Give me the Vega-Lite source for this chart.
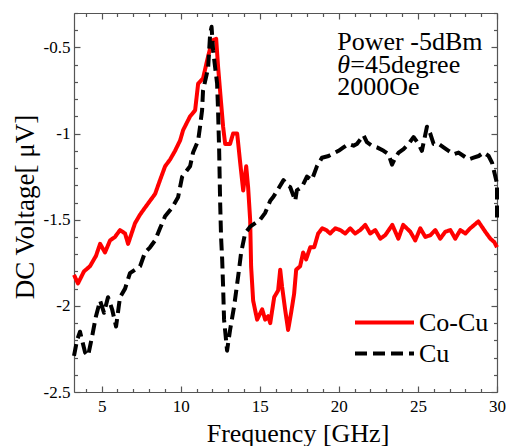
{
  "$schema": "https://vega.github.io/schema/vega-lite/v6.json",
  "width": 423,
  "height": 379,
  "autosize": {"type": "none"},
  "padding": {"left": 74, "top": 13, "right": 9, "bottom": 54},
  "background": "white",
  "config": {
    "view": {"stroke": null},
    "font": "Liberation Serif",
    "axis": {"grid": false, "labelFont": "Liberation Serif", "titleFont": "Liberation Serif"},
    "legend": {"labelFont": "Liberation Serif", "titleFont": "Liberation Serif"},
    "text": {"font": "Liberation Serif"},
    "style": {
      "guide-label": {"font": "Liberation Serif"},
      "guide-title": {"font": "Liberation Serif"}
    }
  },
  "datasets": {
    "curves": [
      {"series":"Co-Cu","idx":0,"freq":3.25,"volt":-1.82},
      {"series":"Co-Cu","idx":1,"freq":3.5,"volt":-1.87},
      {"series":"Co-Cu","idx":2,"freq":3.88,"volt":-1.8},
      {"series":"Co-Cu","idx":3,"freq":4.26,"volt":-1.77},
      {"series":"Co-Cu","idx":4,"freq":4.64,"volt":-1.71},
      {"series":"Co-Cu","idx":5,"freq":4.9,"volt":-1.64},
      {"series":"Co-Cu","idx":6,"freq":5.21,"volt":-1.69},
      {"series":"Co-Cu","idx":7,"freq":5.53,"volt":-1.62},
      {"series":"Co-Cu","idx":8,"freq":5.84,"volt":-1.6},
      {"series":"Co-Cu","idx":9,"freq":6.16,"volt":-1.56},
      {"series":"Co-Cu","idx":10,"freq":6.48,"volt":-1.58},
      {"series":"Co-Cu","idx":11,"freq":6.67,"volt":-1.64},
      {"series":"Co-Cu","idx":12,"freq":7.11,"volt":-1.52},
      {"series":"Co-Cu","idx":13,"freq":7.43,"volt":-1.47},
      {"series":"Co-Cu","idx":14,"freq":7.74,"volt":-1.43},
      {"series":"Co-Cu","idx":15,"freq":8.06,"volt":-1.39},
      {"series":"Co-Cu","idx":16,"freq":8.38,"volt":-1.35},
      {"series":"Co-Cu","idx":17,"freq":8.69,"volt":-1.27},
      {"series":"Co-Cu","idx":18,"freq":9.01,"volt":-1.19},
      {"series":"Co-Cu","idx":19,"freq":9.33,"volt":-1.15},
      {"series":"Co-Cu","idx":20,"freq":9.64,"volt":-1.1},
      {"series":"Co-Cu","idx":21,"freq":9.96,"volt":-1.04},
      {"series":"Co-Cu","idx":22,"freq":10.15,"volt":-0.98},
      {"series":"Co-Cu","idx":23,"freq":10.59,"volt":-0.9},
      {"series":"Co-Cu","idx":24,"freq":10.91,"volt":-0.865},
      {"series":"Co-Cu","idx":25,"freq":11.1,"volt":-0.71},
      {"series":"Co-Cu","idx":26,"freq":11.41,"volt":-0.68},
      {"series":"Co-Cu","idx":27,"freq":11.67,"volt":-0.575},
      {"series":"Co-Cu","idx":28,"freq":11.98,"volt":-0.46},
      {"series":"Co-Cu","idx":29,"freq":12.24,"volt":-0.45},
      {"series":"Co-Cu","idx":30,"freq":12.36,"volt":-0.61},
      {"series":"Co-Cu","idx":31,"freq":12.55,"volt":-0.82},
      {"series":"Co-Cu","idx":32,"freq":12.68,"volt":-0.96},
      {"series":"Co-Cu","idx":33,"freq":12.81,"volt":-1.06},
      {"series":"Co-Cu","idx":34,"freq":13.12,"volt":-1.06},
      {"series":"Co-Cu","idx":35,"freq":13.31,"volt":-1.0},
      {"series":"Co-Cu","idx":36,"freq":13.57,"volt":-1.0},
      {"series":"Co-Cu","idx":37,"freq":13.76,"volt":-1.17},
      {"series":"Co-Cu","idx":38,"freq":13.95,"volt":-1.33},
      {"series":"Co-Cu","idx":39,"freq":14.14,"volt":-1.19},
      {"series":"Co-Cu","idx":40,"freq":14.26,"volt":-1.31},
      {"series":"Co-Cu","idx":41,"freq":14.39,"volt":-1.5},
      {"series":"Co-Cu","idx":42,"freq":14.45,"volt":-1.77},
      {"series":"Co-Cu","idx":43,"freq":14.58,"volt":-1.97},
      {"series":"Co-Cu","idx":44,"freq":14.83,"volt":-2.08},
      {"series":"Co-Cu","idx":45,"freq":15.15,"volt":-2.02},
      {"series":"Co-Cu","idx":46,"freq":15.34,"volt":-2.08},
      {"series":"Co-Cu","idx":47,"freq":15.53,"volt":-2.06},
      {"series":"Co-Cu","idx":48,"freq":15.66,"volt":-2.1},
      {"series":"Co-Cu","idx":49,"freq":15.91,"volt":-1.95},
      {"series":"Co-Cu","idx":50,"freq":16.16,"volt":-1.91},
      {"series":"Co-Cu","idx":51,"freq":16.29,"volt":-1.79},
      {"series":"Co-Cu","idx":52,"freq":16.41,"volt":-1.89},
      {"series":"Co-Cu","idx":53,"freq":16.6,"volt":-2.02},
      {"series":"Co-Cu","idx":54,"freq":16.79,"volt":-2.14},
      {"series":"Co-Cu","idx":55,"freq":16.98,"volt":-2.04},
      {"series":"Co-Cu","idx":56,"freq":17.17,"volt":-1.93},
      {"series":"Co-Cu","idx":57,"freq":17.3,"volt":-1.79},
      {"series":"Co-Cu","idx":58,"freq":17.55,"volt":-1.77},
      {"series":"Co-Cu","idx":59,"freq":17.74,"volt":-1.69},
      {"series":"Co-Cu","idx":60,"freq":17.93,"volt":-1.73},
      {"series":"Co-Cu","idx":61,"freq":18.19,"volt":-1.66},
      {"series":"Co-Cu","idx":62,"freq":18.44,"volt":-1.66},
      {"series":"Co-Cu","idx":63,"freq":18.69,"volt":-1.58},
      {"series":"Co-Cu","idx":64,"freq":18.95,"volt":-1.55},
      {"series":"Co-Cu","idx":65,"freq":19.2,"volt":-1.56},
      {"series":"Co-Cu","idx":66,"freq":19.45,"volt":-1.58},
      {"series":"Co-Cu","idx":67,"freq":19.77,"volt":-1.55},
      {"series":"Co-Cu","idx":68,"freq":20.09,"volt":-1.56},
      {"series":"Co-Cu","idx":69,"freq":20.4,"volt":-1.58},
      {"series":"Co-Cu","idx":70,"freq":20.72,"volt":-1.55},
      {"series":"Co-Cu","idx":71,"freq":21.03,"volt":-1.58},
      {"series":"Co-Cu","idx":72,"freq":21.35,"volt":-1.56},
      {"series":"Co-Cu","idx":73,"freq":21.67,"volt":-1.53},
      {"series":"Co-Cu","idx":74,"freq":21.98,"volt":-1.58},
      {"series":"Co-Cu","idx":75,"freq":22.3,"volt":-1.56},
      {"series":"Co-Cu","idx":76,"freq":22.62,"volt":-1.61},
      {"series":"Co-Cu","idx":77,"freq":22.93,"volt":-1.59},
      {"series":"Co-Cu","idx":78,"freq":23.38,"volt":-1.53},
      {"series":"Co-Cu","idx":79,"freq":23.76,"volt":-1.61},
      {"series":"Co-Cu","idx":80,"freq":24.07,"volt":-1.53},
      {"series":"Co-Cu","idx":81,"freq":24.52,"volt":-1.57},
      {"series":"Co-Cu","idx":82,"freq":24.83,"volt":-1.62},
      {"series":"Co-Cu","idx":83,"freq":25.15,"volt":-1.55},
      {"series":"Co-Cu","idx":84,"freq":25.47,"volt":-1.6},
      {"series":"Co-Cu","idx":85,"freq":25.78,"volt":-1.59},
      {"series":"Co-Cu","idx":86,"freq":26.1,"volt":-1.56},
      {"series":"Co-Cu","idx":87,"freq":26.41,"volt":-1.61},
      {"series":"Co-Cu","idx":88,"freq":26.73,"volt":-1.57},
      {"series":"Co-Cu","idx":89,"freq":27.05,"volt":-1.56},
      {"series":"Co-Cu","idx":90,"freq":27.36,"volt":-1.61},
      {"series":"Co-Cu","idx":91,"freq":27.68,"volt":-1.56},
      {"series":"Co-Cu","idx":92,"freq":28.0,"volt":-1.58},
      {"series":"Co-Cu","idx":93,"freq":28.31,"volt":-1.55},
      {"series":"Co-Cu","idx":94,"freq":28.82,"volt":-1.51},
      {"series":"Co-Cu","idx":95,"freq":29.26,"volt":-1.57},
      {"series":"Co-Cu","idx":96,"freq":29.58,"volt":-1.61},
      {"series":"Co-Cu","idx":97,"freq":29.83,"volt":-1.63},
      {"series":"Co-Cu","idx":98,"freq":30.0,"volt":-1.66},
      {"series":"Cu","idx":0,"freq":3.25,"volt":-2.29},
      {"series":"Cu","idx":1,"freq":3.44,"volt":-2.2},
      {"series":"Cu","idx":2,"freq":3.63,"volt":-2.15},
      {"series":"Cu","idx":3,"freq":3.95,"volt":-2.27},
      {"series":"Cu","idx":4,"freq":4.14,"volt":-2.29},
      {"series":"Cu","idx":5,"freq":4.39,"volt":-2.18},
      {"series":"Cu","idx":6,"freq":4.64,"volt":-2.06},
      {"series":"Cu","idx":7,"freq":4.9,"volt":-1.97},
      {"series":"Cu","idx":8,"freq":5.15,"volt":-2.04},
      {"series":"Cu","idx":9,"freq":5.4,"volt":-1.95},
      {"series":"Cu","idx":10,"freq":5.66,"volt":-2.02},
      {"series":"Cu","idx":11,"freq":5.91,"volt":-2.12},
      {"series":"Cu","idx":12,"freq":6.16,"volt":-1.95},
      {"series":"Cu","idx":13,"freq":6.48,"volt":-1.9},
      {"series":"Cu","idx":14,"freq":6.79,"volt":-1.81},
      {"series":"Cu","idx":15,"freq":7.11,"volt":-1.79},
      {"series":"Cu","idx":16,"freq":7.43,"volt":-1.77},
      {"series":"Cu","idx":17,"freq":7.74,"volt":-1.69},
      {"series":"Cu","idx":18,"freq":8.06,"volt":-1.66},
      {"series":"Cu","idx":19,"freq":8.38,"volt":-1.62},
      {"series":"Cu","idx":20,"freq":8.69,"volt":-1.55},
      {"series":"Cu","idx":21,"freq":9.01,"volt":-1.48},
      {"series":"Cu","idx":22,"freq":9.45,"volt":-1.43},
      {"series":"Cu","idx":23,"freq":9.83,"volt":-1.37},
      {"series":"Cu","idx":24,"freq":10.09,"volt":-1.25},
      {"series":"Cu","idx":25,"freq":10.59,"volt":-1.19},
      {"series":"Cu","idx":26,"freq":10.78,"volt":-1.11},
      {"series":"Cu","idx":27,"freq":11.1,"volt":-1.04},
      {"series":"Cu","idx":28,"freq":11.22,"volt":-0.96},
      {"series":"Cu","idx":29,"freq":11.35,"volt":-0.865},
      {"series":"Cu","idx":30,"freq":11.41,"volt":-0.75},
      {"series":"Cu","idx":31,"freq":11.73,"volt":-0.62},
      {"series":"Cu","idx":32,"freq":11.86,"volt":-0.42},
      {"series":"Cu","idx":33,"freq":11.95,"volt":-0.38},
      {"series":"Cu","idx":34,"freq":12.05,"volt":-0.52},
      {"series":"Cu","idx":35,"freq":12.3,"volt":-0.71},
      {"series":"Cu","idx":36,"freq":12.36,"volt":-0.865},
      {"series":"Cu","idx":37,"freq":12.43,"volt":-1.1},
      {"series":"Cu","idx":38,"freq":12.49,"volt":-1.39},
      {"series":"Cu","idx":39,"freq":12.55,"volt":-1.6},
      {"series":"Cu","idx":40,"freq":12.62,"volt":-1.73},
      {"series":"Cu","idx":41,"freq":12.68,"volt":-1.89},
      {"series":"Cu","idx":42,"freq":12.74,"volt":-2.08},
      {"series":"Cu","idx":43,"freq":12.93,"volt":-2.26},
      {"series":"Cu","idx":44,"freq":13.12,"volt":-2.14},
      {"series":"Cu","idx":45,"freq":13.38,"volt":-2.0},
      {"series":"Cu","idx":46,"freq":13.63,"volt":-1.83},
      {"series":"Cu","idx":47,"freq":13.82,"volt":-1.69},
      {"series":"Cu","idx":48,"freq":14.07,"volt":-1.58},
      {"series":"Cu","idx":49,"freq":14.39,"volt":-1.54},
      {"series":"Cu","idx":50,"freq":14.71,"volt":-1.52},
      {"series":"Cu","idx":51,"freq":15.02,"volt":-1.5},
      {"series":"Cu","idx":52,"freq":15.34,"volt":-1.46},
      {"series":"Cu","idx":53,"freq":15.66,"volt":-1.39},
      {"series":"Cu","idx":54,"freq":15.86,"volt":-1.367},
      {"series":"Cu","idx":55,"freq":16.18,"volt":-1.319},
      {"series":"Cu","idx":56,"freq":16.5,"volt":-1.27},
      {"series":"Cu","idx":57,"freq":16.71,"volt":-1.3},
      {"series":"Cu","idx":58,"freq":16.92,"volt":-1.31},
      {"series":"Cu","idx":59,"freq":17.24,"volt":-1.39},
      {"series":"Cu","idx":60,"freq":17.34,"volt":-1.33},
      {"series":"Cu","idx":61,"freq":17.66,"volt":-1.31},
      {"series":"Cu","idx":62,"freq":17.98,"volt":-1.25},
      {"series":"Cu","idx":63,"freq":18.29,"volt":-1.27},
      {"series":"Cu","idx":64,"freq":18.61,"volt":-1.19},
      {"series":"Cu","idx":65,"freq":18.93,"volt":-1.14},
      {"series":"Cu","idx":66,"freq":19.35,"volt":-1.13},
      {"series":"Cu","idx":67,"freq":19.56,"volt":-1.12},
      {"series":"Cu","idx":68,"freq":19.98,"volt":-1.1},
      {"series":"Cu","idx":69,"freq":20.29,"volt":-1.08},
      {"series":"Cu","idx":70,"freq":20.61,"volt":-1.06},
      {"series":"Cu","idx":71,"freq":20.93,"volt":-1.07},
      {"series":"Cu","idx":72,"freq":21.14,"volt":-1.06},
      {"series":"Cu","idx":73,"freq":21.56,"volt":-1.01},
      {"series":"Cu","idx":74,"freq":21.77,"volt":-1.05},
      {"series":"Cu","idx":75,"freq":22.09,"volt":-1.07},
      {"series":"Cu","idx":76,"freq":22.41,"volt":-1.08},
      {"series":"Cu","idx":77,"freq":22.83,"volt":-1.1},
      {"series":"Cu","idx":78,"freq":23.14,"volt":-1.12},
      {"series":"Cu","idx":79,"freq":23.36,"volt":-1.18},
      {"series":"Cu","idx":80,"freq":23.57,"volt":-1.14},
      {"series":"Cu","idx":81,"freq":23.78,"volt":-1.11},
      {"series":"Cu","idx":82,"freq":24.09,"volt":-1.09},
      {"series":"Cu","idx":83,"freq":24.41,"volt":-1.06},
      {"series":"Cu","idx":84,"freq":24.72,"volt":-1.02},
      {"series":"Cu","idx":85,"freq":25.04,"volt":-1.06},
      {"series":"Cu","idx":86,"freq":25.25,"volt":-1.1},
      {"series":"Cu","idx":87,"freq":25.57,"volt":-0.96},
      {"series":"Cu","idx":88,"freq":25.78,"volt":-1.0},
      {"series":"Cu","idx":89,"freq":25.99,"volt":-1.06},
      {"series":"Cu","idx":90,"freq":26.31,"volt":-1.06},
      {"series":"Cu","idx":91,"freq":26.62,"volt":-1.08},
      {"series":"Cu","idx":92,"freq":26.94,"volt":-1.1},
      {"series":"Cu","idx":93,"freq":27.26,"volt":-1.12},
      {"series":"Cu","idx":94,"freq":27.57,"volt":-1.11},
      {"series":"Cu","idx":95,"freq":27.89,"volt":-1.13},
      {"series":"Cu","idx":96,"freq":28.21,"volt":-1.15},
      {"series":"Cu","idx":97,"freq":28.52,"volt":-1.14},
      {"series":"Cu","idx":98,"freq":28.84,"volt":-1.13},
      {"series":"Cu","idx":99,"freq":29.16,"volt":-1.11},
      {"series":"Cu","idx":100,"freq":29.47,"volt":-1.13},
      {"series":"Cu","idx":101,"freq":29.69,"volt":-1.17},
      {"series":"Cu","idx":102,"freq":30.0,"volt":-1.29},
      {"series":"Cu","idx":103,"freq":30.0,"volt":-1.5}
    ]
  },
  "layer": [
    {
      "data": {"name": "curves"},
      "mark": {"type": "line", "strokeWidth": 4, "strokeJoin": "round"},
      "encoding": {
        "x": {
          "field": "freq", "type": "quantitative",
          "scale": {"domain": [3.25, 30], "nice": false, "zero": false},
          "axis": {
            "orient": "bottom",
            "values": [4,5,6,7,8,9,10,11,12,13,14,15,16,17,18,19,20,21,22,23,24,25,26,27,28,29,30],
            "labelExpr": "datum.value % 5 === 0 ? '' + datum.value : ''",
            "tickSize": {"condition": {"test": "datum.value % 5 === 0", "value": -6}, "value": -3.5},
            "labelPadding": 12,
            "labelFont": "Liberation Serif", "labelFontSize": 17, "labelColor": "black",
            "labelFlush": false, "labelOverlap": false,
            "domainColor": "#555", "domainWidth": 1.2, "tickColor": "#555", "tickWidth": 1.2,
            "title": "Frequency [GHz]",
            "titleFont": "Liberation Serif", "titleFontSize": 26, "titleFontWeight": "normal", "titleColor": "black",
            "titleX": 223.5, "titleY": 49, "titleAlign": "center", "titleBaseline": "alphabetic"
          }
        },
        "y": {
          "field": "volt", "type": "quantitative",
          "scale": {"domain": [-2.5, -0.3], "nice": false, "zero": false},
          "axis": {
            "orient": "left",
            "values": [-2.5,-2.4,-2.3,-2.2,-2.1,-2.0,-1.9,-1.8,-1.7,-1.6,-1.5,-1.4,-1.3,-1.2,-1.1,-1.0,-0.9,-0.8,-0.7,-0.6,-0.5,-0.4,-0.3],
            "labelExpr": "round(datum.value * 10) % 5 === 0 ? '' + (round(datum.value * 10) / 10) : ''",
            "tickSize": {"condition": {"test": "round(datum.value * 10) % 5 === 0", "value": -6}, "value": -3.5},
            "labelPadding": 10,
            "labelFont": "Liberation Serif", "labelFontSize": 17, "labelColor": "black",
            "labelFlush": false, "labelOverlap": false,
            "domainColor": "#555", "domainWidth": 1.2, "tickColor": "#555", "tickWidth": 1.2,
            "title": "DC Voltage[ μV]",
            "titleFont": "Liberation Serif", "titleFontSize": 27, "titleFontWeight": "normal", "titleColor": "black",
            "titleX": -41, "titleY": 193.5, "titleAngle": 270, "titleAlign": "center", "titleBaseline": "alphabetic"
          }
        },
        "color": {
          "field": "series", "type": "nominal",
          "scale": {"domain": ["Co-Cu", "Cu"], "range": ["#ff0000", "#000000"]},
          "legend": {
            "title": null, "orient": "none", "legendX": 279, "legendY": 297,
            "symbolType": "stroke", "symbolSize": 3481, "symbolStrokeWidth": 4,
            "labelFont": "Liberation Serif", "labelFontSize": 26, "labelColor": "black", "labelOffset": 3,
            "clipHeight": 25, "rowPadding": 4, "padding": 0
          }
        },
        "strokeDash": {
          "field": "series", "type": "nominal",
          "scale": {"domain": ["Co-Cu", "Cu"], "range": [[1, 0], [12, 6]]},
          "legend": {
            "title": null, "orient": "none", "legendX": 279, "legendY": 297,
            "symbolType": "stroke", "symbolSize": 3481, "symbolStrokeWidth": 4,
            "labelFont": "Liberation Serif", "labelFontSize": 26, "labelColor": "black", "labelOffset": 3,
            "clipHeight": 25, "rowPadding": 4, "padding": 0
          }
        },
        "order": {"field": "idx", "type": "quantitative"}
      }
    },
    {
      "data": {"name": "curves"},
      "mark": {"type": "line", "strokeOpacity": 0},
      "encoding": {
        "x": {
          "field": "freq", "type": "quantitative",
          "axis": {
            "orient": "top", "labels": false, "title": null,
            "values": [4,5,6,7,8,9,10,11,12,13,14,15,16,17,18,19,20,21,22,23,24,25,26,27,28,29,30],
            "tickSize": {"condition": {"test": "datum.value % 5 === 0", "value": -6}, "value": -3.5},
            "domainColor": "#555", "domainWidth": 1.2, "tickColor": "#555", "tickWidth": 1.2
          }
        },
        "y": {
          "field": "volt", "type": "quantitative",
          "axis": {
            "orient": "right", "labels": false, "title": null,
            "values": [-2.5,-2.4,-2.3,-2.2,-2.1,-2.0,-1.9,-1.8,-1.7,-1.6,-1.5,-1.4,-1.3,-1.2,-1.1,-1.0,-0.9,-0.8,-0.7,-0.6,-0.5,-0.4,-0.3],
            "tickSize": {"condition": {"test": "round(datum.value * 10) % 5 === 0", "value": -6}, "value": -3.5},
            "domainColor": "#555", "domainWidth": 1.2, "tickColor": "#555", "tickWidth": 1.2
          }
        },
        "detail": {"field": "series"}
      }
    },
    {
      "data": {"values": [{"note": "Power -5dBm"}]},
      "mark": {"type": "text", "font": "Liberation Serif", "fontSize": 26, "align": "left", "baseline": "alphabetic", "color": "black"},
      "encoding": {
        "x": {"datum": 19.9, "type": "quantitative", "axis": null},
        "y": {"datum": -0.517, "type": "quantitative", "axis": null},
        "text": {"field": "note"}
      }
    },
    {
      "data": {"values": [{"note": "θ"}]},
      "mark": {"type": "text", "font": "Liberation Serif", "fontSize": 26, "fontStyle": "italic", "align": "left", "baseline": "alphabetic", "color": "black"},
      "encoding": {
        "x": {"datum": 19.9, "type": "quantitative", "axis": null},
        "y": {"datum": -0.651, "type": "quantitative", "axis": null},
        "text": {"field": "note"}
      }
    },
    {
      "data": {"values": [{"note": "=45degree"}]},
      "mark": {"type": "text", "font": "Liberation Serif", "fontSize": 26, "align": "left", "baseline": "alphabetic", "color": "black"},
      "encoding": {
        "x": {"datum": 20.72, "type": "quantitative", "axis": null},
        "y": {"datum": -0.651, "type": "quantitative", "axis": null},
        "text": {"field": "note"}
      }
    },
    {
      "data": {"values": [{"note": "2000Oe"}]},
      "mark": {"type": "text", "font": "Liberation Serif", "fontSize": 26, "align": "left", "baseline": "alphabetic", "color": "black"},
      "encoding": {
        "x": {"datum": 19.9, "type": "quantitative", "axis": null},
        "y": {"datum": -0.778, "type": "quantitative", "axis": null},
        "text": {"field": "note"}
      }
    }
  ],
  "resolve": {"axis": {"x": "independent", "y": "independent"}}
}
